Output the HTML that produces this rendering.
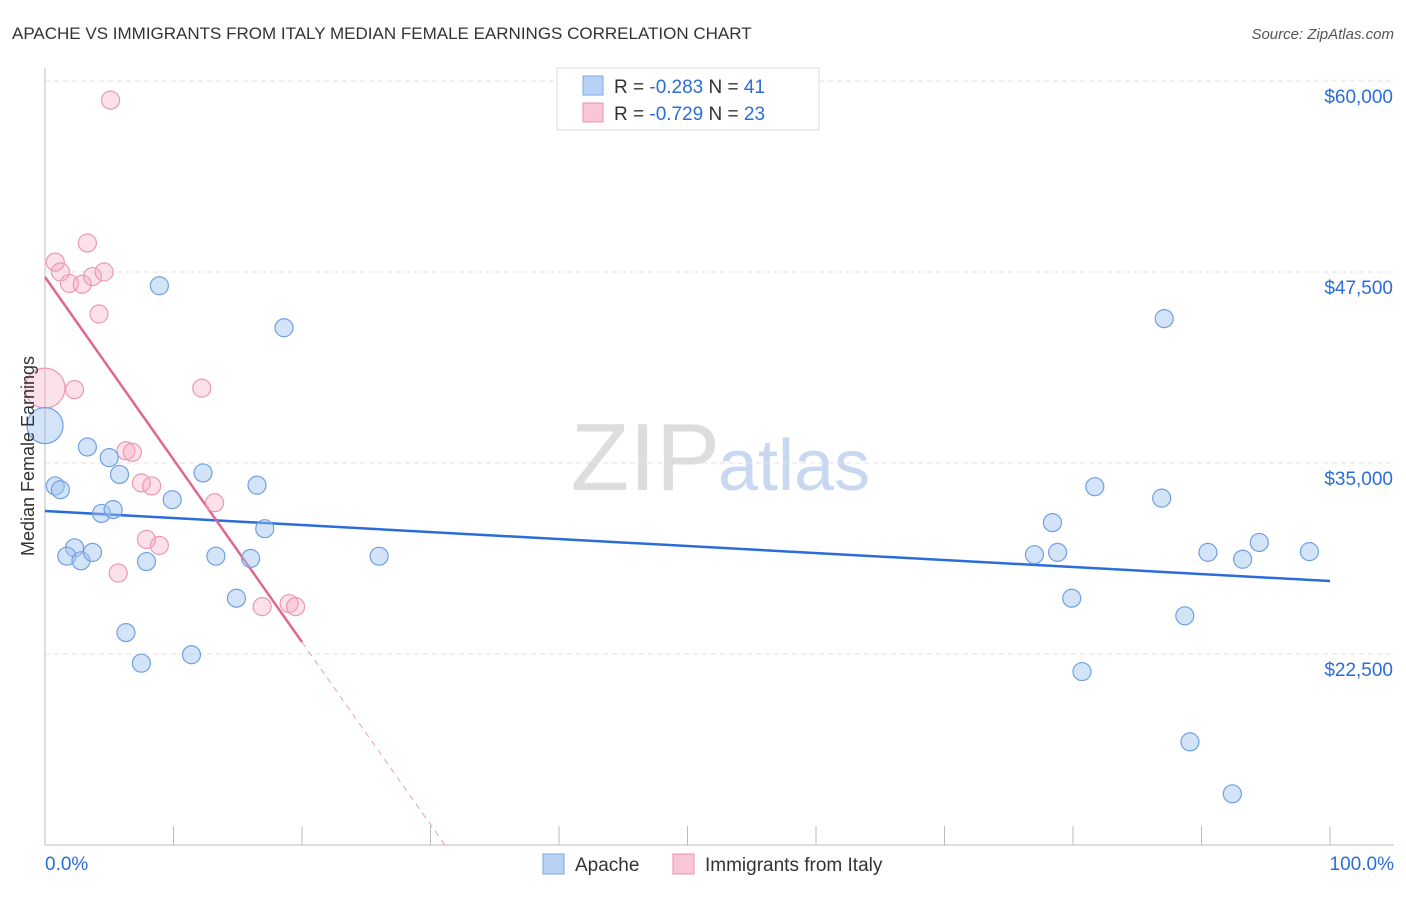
<!DOCTYPE html>
<html><head><meta charset="utf-8"><style>
body{margin:0;background:#fff;font-family:"Liberation Sans",sans-serif;}
svg text{font-family:"Liberation Sans",sans-serif;}
</style></head><body>
<svg id="chart" width="1406" height="892">
<text x="12" y="39" font-size="17" fill="#333">APACHE VS IMMIGRANTS FROM ITALY MEDIAN FEMALE EARNINGS CORRELATION CHART</text>
<text x="1394" y="39" font-size="15" fill="#555" text-anchor="end" font-style="italic">Source: ZipAtlas.com</text>
<text x="720" y="490" font-size="96" fill="#ddd" text-anchor="end" font-family="Liberation Serif">ZIP</text>
<text x="718" y="490" font-size="72" fill="#c8d8f0">atlas</text>
<g id="grid"></g><g id="axes"></g><g id="trends"></g><g id="pts"></g>
<text transform="translate(34,456) rotate(-90)" font-size="18" fill="#333" text-anchor="middle">Median Female Earnings</text>
<g>
<rect x="557" y="68" width="262" height="62" fill="#fff" stroke="#ddd"/>
<rect x="583" y="76" width="20" height="19" fill="#b8d2f5" stroke="#7aa8e6"/>
<text x="614" y="93" font-size="19" fill="#333">R = <tspan fill="#2a6dd9">-0.283</tspan>   N = <tspan fill="#2a6dd9">41</tspan></text>
<rect x="583" y="103" width="20" height="19" fill="#f8c6d4" stroke="#ec92b0"/>
<text x="614" y="120" font-size="19" fill="#333">R = <tspan fill="#2a6dd9">-0.729</tspan>   N = <tspan fill="#2a6dd9">23</tspan></text>
</g>
<g>
<rect x="543" y="854" width="21" height="20" fill="#b8d2f5" stroke="#7aa8e6"/>
<text x="575" y="871" font-size="19" fill="#333">Apache</text>
<rect x="673" y="854" width="21" height="20" fill="#f8c6d4" stroke="#ec92b0"/>
<text x="705" y="871" font-size="19" fill="#333">Immigrants from Italy</text>
</g>
</svg>
<script>
const yTicks=[60000,47500,35000,22500];
const yTickLabels=["$60,000","$47,500","$35,000","$22,500"];
const xTickLabels=["0.0%","100.0%"];
const apacheX=[0,8.9,18.6,3.3,5,5.8,0.8,1.2,12.3,16.5,9.9,4.4,5.3,17.1,2.3,1.7,2.8,3.7,7.9,13.3,16,26,14.9,6.3,11.4,7.5,87.1,81.7,86.9,78.4,77,78.8,79.9,90.5,94.5,93.2,98.4,88.7,80.7,89.1,92.4];
const apacheY=[37450,46600,43850,36050,35350,34250,33500,33250,34350,33550,32600,31700,31950,30700,29450,28900,28600,29150,28550,28900,28750,28900,26150,23900,22450,21900,44450,33450,32700,31100,29000,29150,26150,29150,29800,28700,29200,25000,21350,16750,13350];
const italyX=[5.1,0.8,3.3,1.2,1.9,2.9,3.7,4.6,4.2,0,2.3,12.2,6.3,6.8,7.5,8.3,13.2,7.9,8.9,5.7,16.9,19,19.5];
const italyY=[58750,48150,49400,47500,46750,46700,47200,47500,44750,39900,39800,39900,35800,35700,33700,33500,32400,30000,29600,27800,25600,25800,25600];
const apacheSize=[18,9,9,9,9,9,9,9,9,9,9,9,9,9,9,9,9,9,9,9,9,9,9,9,9,9,9,9,9,9,9,9,9,9,9,9,9,9,9,9,9];
const italySize=[9,9,9,9,9,9,9,9,9,20,9,9,9,9,9,9,9,9,9,9,9,9,9];
const apacheTrend=[31856,27275];
const italyTrend=[47172,-1194.5];
const X0=45,X1=1330,YB=845;
const xs=p=>X0+(X1-X0)*p/100;
const ys=v=>81+(60000-v)*191/12500;
const NS="http://www.w3.org/2000/svg";
function mk(parent,tag,attrs){const e=document.createElementNS(NS,tag);for(const k in attrs)e.setAttribute(k,attrs[k]);document.getElementById(parent).appendChild(e);return e;}
yTicks.forEach((v,i)=>{
 const l=mk('grid','line',{x1:X0,x2:1394,y1:ys(v),y2:ys(v),stroke:'#e2e2e2','stroke-dasharray':'5,4'});
 
 
 const t=mk('axes','text',{x:1393,y:ys(v)+22,'font-size':19,fill:'#2a6dd9','text-anchor':'end'});
 t.textContent=yTickLabels[i];
 
 
});
const ax=mk('axes','line',{x1:X0,x2:X0,y1:68,y2:YB,stroke:'#bbb'});


const bx=mk('axes','line',{x1:X0,x2:1394,y1:YB,y2:YB,stroke:'#bbb'});


for(let i=0;i<=10;i++){const tk=mk('axes','line',{x1:xs(i*10),x2:xs(i*10),y1:826,y2:YB,stroke:'#bbb'});
 
 }
[[0,'start',45],[1,'end',1394]].forEach(([i,a,x])=>{const t=mk('axes','text',{x:x,y:870,'font-size':19,fill:'#2a6dd9','text-anchor':a});t.textContent=xTickLabels[i];
 
 });
const bl=mk('trends','line',{x1:xs(0),y1:ys(apacheTrend[0]),x2:xs(100),y2:ys(apacheTrend[1]),stroke:'#2a6dd9','stroke-width':2.5});


const pv=p=>italyTrend[0]+italyTrend[1]*p;
const pl=mk('trends','line',{x1:xs(0),y1:ys(pv(0)),x2:xs(20),y2:ys(pv(20)),stroke:'#e06890','stroke-width':2.5});


const pEnd=(italyTrend[0]-(60000-(YB-81)*12500/191))/-italyTrend[1];
const pd=mk('trends','line',{x1:xs(20),y1:ys(pv(20)),x2:xs(pEnd),y2:YB,stroke:'#e8a0b8','stroke-width':1,'stroke-dasharray':'6,5'});


italyX.forEach((p,i)=>{const c=mk('pts','circle',{cx:xs(p),cy:ys(italyY[i]),r:italySize[i],fill:'rgba(245,170,195,0.35)',stroke:'#eb98b4','stroke-width':1.2});
 
 });
apacheX.forEach((p,i)=>{const c=mk('pts','circle',{cx:xs(p),cy:ys(apacheY[i]),r:apacheSize[i],fill:'rgba(160,195,240,0.45)',stroke:'#6fa0e2','stroke-width':1.2});
 
 });
</script>
</body></html>
